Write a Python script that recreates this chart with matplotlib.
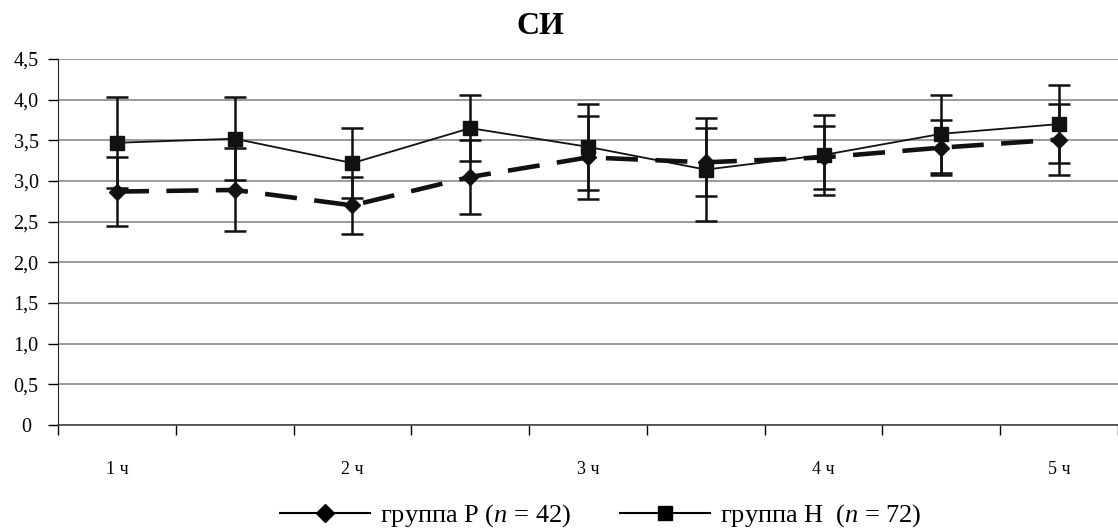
import numpy as np
import matplotlib.pyplot as plt
from matplotlib.lines import Line2D

plt.rcParams['font.family'] = ['Liberation Serif', 'DejaVu Serif']
plt.rcParams['mathtext.fontset'] = 'custom'
plt.rcParams['mathtext.it'] = 'Liberation Serif:italic'
plt.rcParams['mathtext.rm'] = 'Liberation Serif'

# data
points = np.arange(1, 10)
tick_pos = [1, 3, 5, 7, 9]
tick_labels = ['1 ч', '2 ч', '3 ч', '4 ч', '5 ч']

group_p = [2.87, 2.89, 2.70, 3.05, 3.29, 3.23, 3.29, 3.41, 3.51]
group_p_err = [0.42, 0.51, 0.35, 0.45, 0.51, 0.42, 0.39, 0.34, 0.44]
group_h = [3.47, 3.52, 3.22, 3.65, 3.42, 3.14, 3.32, 3.58, 3.70]
group_h_err = [0.56, 0.51, 0.43, 0.41, 0.53, 0.63, 0.49, 0.48, 0.48]

fig = plt.figure(figsize=(11.18, 5.31), dpi=100)
ax = fig.add_axes([58 / 1118, 1 - 425 / 531, 1 - 58 / 1118, (425 - 59) / 531])

ax.errorbar(points, group_h, yerr=group_h_err, color='#111111', lw=1.3,
            marker='s', ms=10, capsize=8, elinewidth=1.8, capthick=1.8, zorder=3)
ax.errorbar(points, group_p, yerr=group_p_err, color='#111111', lw=3.3,
            ls=(0, (7, 3.8)), marker='D', ms=8, capsize=8, elinewidth=1.8,
            capthick=1.8, zorder=4)

ax.set_ylim(0, 4.5)
ax.set_xlim(0.5, 9.5)
yt = np.arange(0, 4.51, 0.5)
ax.set_yticks(yt)
ax.set_yticklabels(['0'] + [f'{v:.1f}'.replace('.', ',') for v in yt[1:]],
                   ha='center', fontsize=14.5)
ax.tick_params(axis='y', direction='out', length=7, width=1, pad=16)
ax.yaxis.grid(True, color='#8a8a8a', lw=1.2)
ax.set_axisbelow(True)

ax.set_xticks(tick_pos)
ax.set_xticklabels(tick_labels, fontsize=13)
ax.tick_params(axis='x', length=0, pad=26)
ax.set_xticks(np.arange(0.5, 9.6, 1), minor=True)
ax.tick_params(axis='x', which='minor', direction='out', length=7, width=1)

for s in ['top', 'right']:
    ax.spines[s].set_visible(False)
ax.spines['left'].set_color('#222222')
ax.spines['bottom'].set_color('#444444')
ax.spines['bottom'].set_linewidth(1.2)

fig.text(540 / 1118, 1 - 27 / 531, 'СИ', fontsize=23, fontweight='bold',
         ha='center', va='center')

handles = [
    Line2D([], [], color='black', lw=1.5, marker='D', ms=9),
    Line2D([], [], color='black', lw=1.5, marker='s', ms=10),
]
labels = ['группа Р ($n$ = 42)', 'группа Н  ($n$ = 72)']
fig.legend(handles, labels, loc='center', bbox_to_anchor=(601 / 1118, 1 - 516 / 531),
           ncol=2, frameon=False, fontsize=19, handlelength=3.4,
           columnspacing=1.85, handletextpad=0.4, borderpad=0)

fig.savefig('out.png', dpi=100)
